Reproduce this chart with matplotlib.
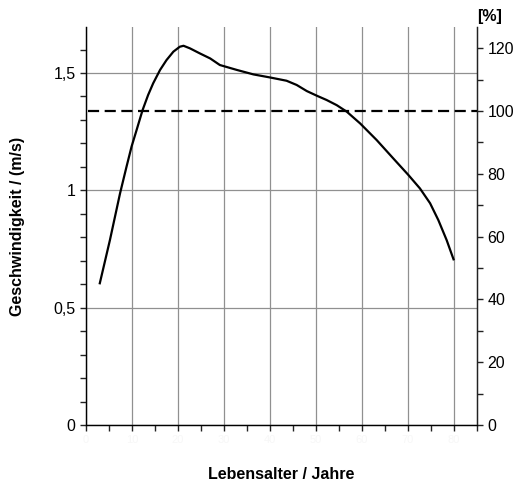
import numpy as np
import matplotlib.pyplot as plt
from matplotlib.ticker import MultipleLocator, FuncFormatter

plt.rcParams['font.family'] = ['Liberation Sans', 'DejaVu Sans']

# Lebensalter (Jahre) und Geschwindigkeit (m/s)
alter = [3.0, 5.2, 7.4, 8.8, 9.9, 11.0, 12.3, 13.5, 14.6, 16.1, 17.5, 19.0,
         20.4, 21.2, 22.6, 24.8, 27.0, 29.1, 32.8, 36.4, 40.0, 43.6, 45.8,
         48.0, 50.2, 52.3, 54.5, 56.7, 59.6, 63.2, 66.8, 70.1, 72.6, 74.8,
         76.6, 78.4, 79.9]
geschw = [0.604, 0.788, 0.987, 1.10, 1.186, 1.257, 1.342, 1.406, 1.456, 1.513,
          1.555, 1.591, 1.612, 1.616, 1.605, 1.583, 1.562, 1.534, 1.513, 1.494,
          1.481, 1.467, 1.449, 1.423, 1.403, 1.385, 1.363, 1.335, 1.285, 1.214,
          1.136, 1.065, 1.008, 0.945, 0.873, 0.788, 0.706]
referenz = 1.338  # 100 %
x_ticks = [0, 10, 20, 30, 40, 50, 60, 70, 80]

fig = plt.figure(figsize=(5.19, 4.86), dpi=100)
ax = fig.add_axes([86 / 519, 61 / 486, 391 / 519, 398 / 486])

ax.set_xlim(0, 85)
ax.set_ylim(0, 1.696)
ax.grid(True, axis='both', which='major', color='#909090', linewidth=0.9)
ax.set_axisbelow(True)

ax.plot(alter, geschw, color='black', linewidth=1.6, zorder=3,
        solid_joinstyle='round')
ax.axhline(referenz, xmin=0.005, xmax=1, color='black', linewidth=1.6,
           linestyle=(0, (5, 2.5)), zorder=3)

ax.xaxis.set_minor_locator(MultipleLocator(5))
ax.set_xticks(x_ticks)
ax.set_xticklabels([str(v) for v in x_ticks], color='#f7f7f7', fontsize=8)
ax.yaxis.set_major_locator(MultipleLocator(0.5))
ax.yaxis.set_minor_locator(MultipleLocator(0.1))
ax.yaxis.set_major_formatter(FuncFormatter(lambda v, p: ('%g' % v).replace('.', ',')))

ax.spines['top'].set_visible(False)
for s in ['left', 'right', 'bottom']:
    ax.spines[s].set_color('#222222')
    ax.spines[s].set_linewidth(1.0)
ax.tick_params(which='both', direction='out', length=4, width=1, color='#222222')
ax.tick_params(axis='y', labelsize=11.5)

ax2 = ax.twinx()
ax2.set_ylim(0, 1.696 / referenz * 100)
ax2.yaxis.set_major_locator(MultipleLocator(20))
ax2.yaxis.set_minor_locator(MultipleLocator(10))
ax2.spines['top'].set_visible(False)
ax2.spines['right'].set_color('#222222')
ax2.tick_params(which='both', direction='out', length=4, width=1, color='#222222',
                labelsize=11.5)

fig.text(281 / 519, 1 - 474 / 486, 'Lebensalter / Jahre', fontsize=11.5,
         fontweight='bold', ha='center', va='center')
fig.text(18 / 519, 1 - 226 / 486, 'Geschwindigkeit / (m/s)', fontsize=11.5,
         fontweight='bold', ha='center', va='center', rotation=90)
fig.text(490 / 519, 1 - 16 / 486, '[%]', fontsize=11.5, fontweight='bold',
         ha='center', va='center')

fig.savefig('out.png', dpi=100)
